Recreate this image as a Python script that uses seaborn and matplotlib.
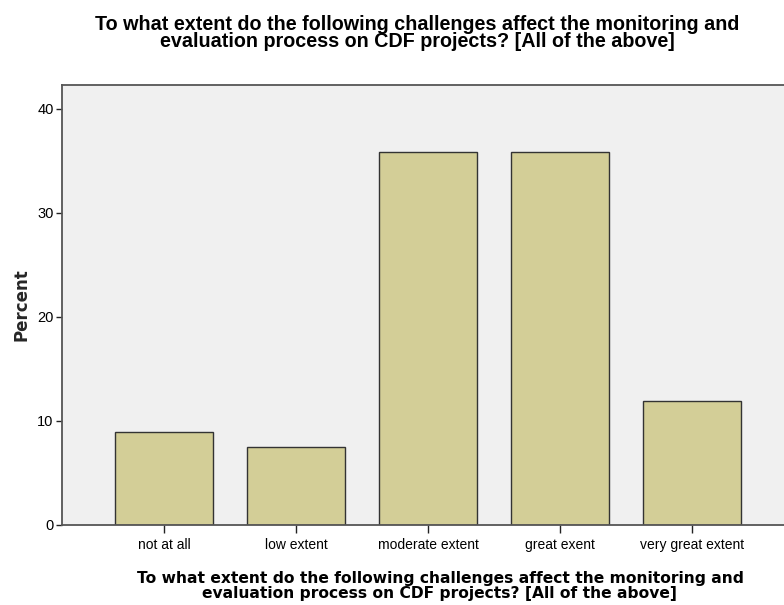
import pandas as pd
import matplotlib
matplotlib.use("Agg")
import matplotlib.pyplot as plt
import seaborn as sns

# responses (n = 67), shown as percent
categories = ["not at all", "low extent", "moderate extent", "great exent", "very great extent"]
percent = [8.96, 7.46, 35.82, 35.82, 11.94]
y_ticks = [0, 10, 20, 30, 40]

question = ("To what extent do the following challenges affect the monitoring and\n"
            "evaluation process on CDF projects? [All of the above]")

df = pd.DataFrame({"answer": categories, "Percent": percent})

sns.set_style("white")
plt.rcParams["font.family"] = ["Liberation Sans", "DejaVu Sans"]
plt.rcParams["text.color"] = "black"
plt.rcParams["xtick.color"] = "black"
plt.rcParams["ytick.color"] = "black"

fig = plt.figure(figsize=(7.84, 6.05), dpi=100)
ax = fig.add_axes([62 / 784, 1 - 525 / 605, 732 / 784, 440 / 605])
ax.set_facecolor("#F0F0F0")

sns.barplot(data=df, x="answer", y="Percent", order=categories, color="#D3CE97",
            saturation=1, edgecolor="#333333", linewidth=1.0, width=0.74, ax=ax)

ax.set_xlim(-0.773, 4.773)
ax.set_ylim(0, 42.3)
ax.set_yticks(y_ticks)
ax.tick_params(axis="both", bottom=True, left=True, direction="out", length=4.5,
               width=1.0, color="#222222", labelsize=10.5, pad=1.5)
ax.tick_params(axis="x", labelsize=10, pad=4, length=5.5)
ax.set_xlabel("")
ax.set_ylabel("Percent", fontsize=12, fontweight="bold", family="DejaVu Sans", labelpad=5)

for side in ["left", "bottom", "top"]:
    ax.spines[side].set_color("#555555")
    ax.spines[side].set_linewidth(1.3)
ax.spines["right"].set_visible(False)

fig.text(417 / 784, 1 - 33 / 605, question, ha="center", va="center",
         fontsize=14.2, fontweight="bold", linespacing=0.92)
fig.text(440 / 784, 1 - 586 / 605, question, ha="center", va="center",
         fontsize=11.2, fontweight="bold", family="DejaVu Sans", linespacing=0.95)

fig.savefig("out.png", dpi=100)
